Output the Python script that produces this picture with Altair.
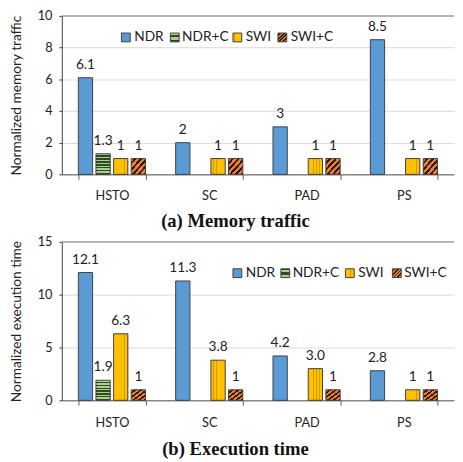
import altair as alt
import pandas as pd

categories = ["HSTO", "SC", "PAD", "PS"]
series = ["NDR", "NDR+C", "SWI", "SWI+C"]

mem_cat = ["HSTO", "HSTO", "HSTO", "HSTO", "SC", "SC", "SC", "PAD", "PAD", "PAD", "PS", "PS", "PS"]
mem_series = ["NDR", "NDR+C", "SWI", "SWI+C", "NDR", "SWI", "SWI+C", "NDR", "SWI", "SWI+C", "NDR", "SWI", "SWI+C"]
mem_values = [6.1, 1.3, 1, 1, 2, 1, 1, 3, 1, 1, 8.5, 1, 1]
mem_labels = ["6.1", "1.3", "1", "1", "2", "1", "1", "3", "1", "1", "8.5", "1", "1"]

exe_cat = ["HSTO", "HSTO", "HSTO", "HSTO", "SC", "SC", "SC", "PAD", "PAD", "PAD", "PS", "PS", "PS"]
exe_series = ["NDR", "NDR+C", "SWI", "SWI+C", "NDR", "SWI", "SWI+C", "NDR", "SWI", "SWI+C", "NDR", "SWI", "SWI+C"]
exe_values = [12.1, 1.9, 6.3, 1, 11.3, 3.8, 1, 4.2, 3.0, 1, 2.8, 1, 1]
exe_labels = ["12.1", "1.9", "6.3", "1", "11.3", "3.8", "1", "4.2", "3.0", "1", "2.8", "1", "1"]

FONT = "Lato"
TITLE_FONT = "Liberation Serif"
W = 401


def stripes(c1, c2, n, frac, x1, y1, x2, y2):
    stops = []
    for i in range(n):
        a = i / n
        b = (i + frac) / n
        c = (i + 1) / n
        stops += [
            {"offset": round(a, 4), "color": c1},
            {"offset": round(b, 4), "color": c1},
            {"offset": round(b, 4), "color": c2},
            {"offset": round(c, 4), "color": c2},
        ]
    return {"gradient": "linear", "x1": x1, "y1": y1, "x2": x2, "y2": y2, "stops": stops}


fills = {
    "NDR": "#5B9BD5",
    "NDR+C": stripes("#A9D18E", "#2F4A22", 7, 0.55, 0, 0, 0, 1),
    "SWI": stripes("#FFC000", "#D19A00", 5, 0.8, 0, 0, 1, 0),
    "SWI+C": stripes("#ED7D31", "#2A1A10", 5, 0.55, 0, 0, 1, 1),
}


def panel(cat, ser, vals, labs, ymax, ystep, height, ytitle, title, leg_y, leg_sw, leg_tx, lab_pad, title_off):
    df = pd.DataFrame({"cat": cat, "series": ser, "value": vals, "label": labs})
    X = alt.X(
        "cat:N",
        sort=categories,
        scale=alt.Scale(domain=categories, paddingInner=0.31, paddingOuter=0.17),
        axis=alt.Axis(title=None, labelAngle=0, tickBand="extent", tickSize=5,
                      labelPadding=lab_pad, domainColor="#595959", tickColor="#595959"),
    )
    XO = alt.XOffset("series:N", scale=alt.Scale(domain=series, paddingInner=0.19, paddingOuter=0))
    Y = alt.Y(
        "value:Q",
        scale=alt.Scale(domain=[0, ymax], nice=False),
        axis=alt.Axis(title=ytitle, values=list(range(0, ymax + 1, ystep)), tickSize=3,
                      labelPadding=7, titlePadding=14, grid=True, gridColor="#D9D9D9",
                      domainColor="#404040", tickColor="#404040"),
    )
    layers = []
    for s in series:
        layers.append(
            alt.Chart(df)
            .transform_filter(alt.datum.series == s)
            .mark_bar(fill=fills[s], stroke="#404040", strokeWidth=1)
            .encode(x=X, xOffset=XO, y=Y)
        )
    text = alt.Chart(df).mark_text(
        font=FONT, fontSize=14, dy=-9, baseline="alphabetic", color="#222222"
    ).encode(x=X, xOffset=XO, y=Y, text="label:N")
    layers.append(text)
    top = alt.Chart(alt.InlineData(values=[{"k": 0}])).mark_rule(
        color="#7F7F7F", strokeWidth=1
    ).encode(x=alt.value(0), x2=alt.value(W), y=alt.value(0))
    layers.append(top)
    for s, sx, tx in zip(series, leg_sw, leg_tx):
        layers.append(
            alt.Chart(alt.InlineData(values=[{"k": 0}])).mark_rect(
                fill=fills[s], stroke="#404040", strokeWidth=1
            ).encode(x=alt.value(sx), x2=alt.value(sx + 9), y=alt.value(leg_y - 4.5), y2=alt.value(leg_y + 4.5))
        )
        layers.append(
            alt.Chart(alt.InlineData(values=[{"k": 0}])).mark_text(
                font=FONT, fontSize=14, align="left", baseline="middle", color="#222222"
            ).encode(x=alt.value(tx), y=alt.value(leg_y), text=alt.value(s))
        )
    return alt.layer(*layers).properties(
        width=W,
        height=height,
        title=alt.TitleParams(
            title, orient="bottom", anchor="middle", font=TITLE_FONT, fontSize=19,
            fontWeight="bold", color="#111111", dx=-23, offset=title_off,
        ),
    )


p1 = panel(mem_cat, mem_series, mem_values, mem_labels, 10, 2, 162,
           "Normalized memory traffic", "(a) Memory traffic",
           22, [61, 111, 175, 221], [74, 123, 188, 234], 11, 10)
p2 = panel(exe_cat, exe_series, exe_values, exe_labels, 15, 5, 162,
           "Normalized execution time", "(b) Execution time",
           32, [175, 224, 290, 338], [188, 236, 303, 350], 12, 11)

chart = alt.vconcat(p1, p2, spacing=5).properties(
    padding={"left": 1, "top": -3, "right": 0, "bottom": 0}
).configure_view(
    stroke=None
).configure_axis(
    labelFont=FONT, labelFontSize=13, labelColor="#222222",
    titleFont=FONT, titleFontSize=14, titleFontWeight="normal", titleColor="#222222",
)

chart.save("out.html", embed_options={"renderer": "svg", "actions": False})
